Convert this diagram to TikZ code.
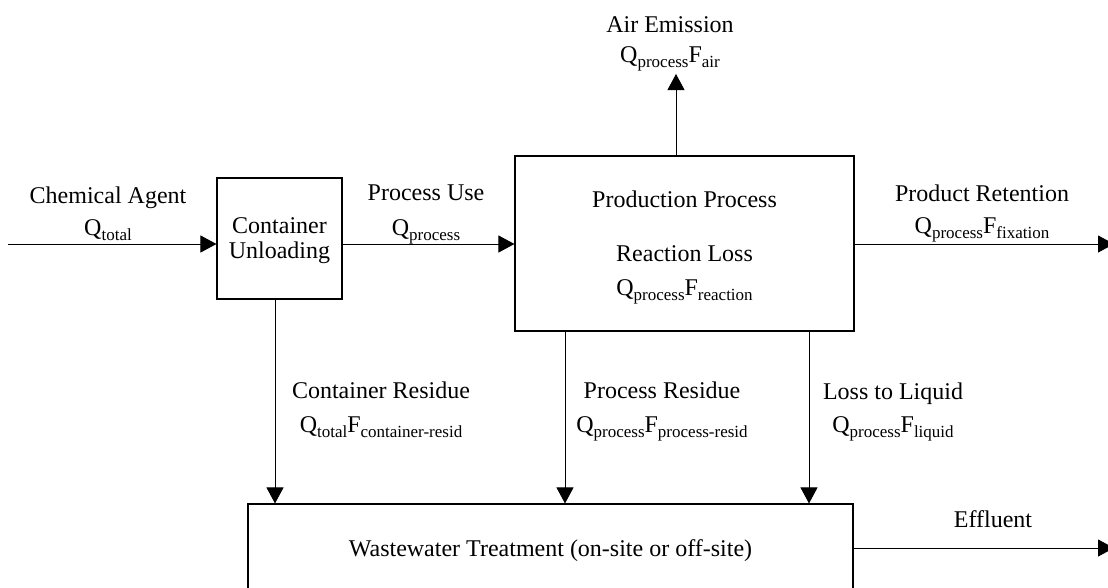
\documentclass[tikz,border=0pt]{standalone}
\usepackage{fontspec}
\setmainfont{Liberation Serif}
\usetikzlibrary{arrows.meta}
\newcommand\lbsub[1]{\raisebox{-5pt}{\fontsize{17}{17}\selectfont #1}}
\begin{document}
\begin{tikzpicture}[x=1pt,y=-1pt,
  box/.style={draw, line width=1.1pt, inner sep=0pt},
  lbl/.style={anchor=base, inner sep=0pt},
  flow/.style={-{Triangle[length=16pt,width=17pt]}, line width=1pt},
  font=\fontsize{24}{25}\selectfont]
\useasboundingbox (0,0) rectangle (1108,587);
% boxes
\node[box, minimum width=125pt, minimum height=121pt, align=center] (cu) at (279.5,238.5) {};
\node[lbl] (cu1) at (279.5,233) {Container};
\node[lbl] (cu2) at (279.5,258) {Unloading};
\node[box, minimum width=339pt, minimum height=175pt] (pp) at (684.5,243.5) {};
\node[box, minimum width=605pt, minimum height=88pt, text height=22pt, text depth=6pt] (ww) at (550.5,548) {Wastewater Treatment (on-site or off-site)};
% texts in production box
\node[lbl] (pptitle) at (684.5,207) {Production Process};
\node[lbl] (rl1) at (684.5,261) {Reaction Loss};
\node[lbl] (rl2) at (684.5,295) {Q\lbsub{process}F\lbsub{reaction}};
% coordinates
\coordinate (in) at (8,244);
\coordinate (airtip) at (676,74);
\coordinate (prtip) at (1114,244);
\coordinate (efftip) at (1114,548);
\coordinate (crx) at (275,0);
\coordinate (prx) at (565,0);
\coordinate (llx) at (809,0);
% connectors
\draw[flow] (in) -- (in -| cu.west);
\draw[flow] (cu.east |- in) -- (pp.west |- in);
\draw[flow] (airtip |- pp.north) -- (airtip);
\draw[flow] (pp.east |- prtip) -- (prtip);
\draw[flow] (crx |- cu.south) -- (crx |- ww.north);
\draw[flow] (prx |- pp.south) -- (prx |- ww.north);
\draw[flow] (llx |- pp.south) -- (llx |- ww.north);
\draw[flow] (ww.east |- efftip) -- (efftip);
% labels
\node[lbl] (ca1) at (108,203) {Chemical Agent};
\node[lbl] (ca2) at (108,235) {Q\lbsub{total}};
\node[lbl] (pu1) at (426,200) {Process Use};
\node[lbl] (pu2) at (426,235) {Q\lbsub{process}};
\node[lbl] (ae1) at (670,32) {Air Emission};
\node[lbl] (ae2) at (670,62) {Q\lbsub{process}F\lbsub{air}};
\node[lbl] (pr1) at (982,201) {Product Retention};
\node[lbl] (pr2) at (982,233) {Q\lbsub{process}F\lbsub{fixation}};
\node[lbl] (cr1) at (381,398) {Container Residue};
\node[lbl] (cr2) at (381,432) {Q\lbsub{total}F\lbsub{container-resid}};
\node[lbl] (ps1) at (662,398) {Process Residue};
\node[lbl] (ps2) at (662,432) {Q\lbsub{process}F\lbsub{process-resid}};
\node[lbl] (ll1) at (893,399) {Loss to Liquid};
\node[lbl] (ll2) at (893,432) {Q\lbsub{process}F\lbsub{liquid}};
\node[lbl] (ef) at (993,527) {Effluent};
\end{tikzpicture}
\end{document}
